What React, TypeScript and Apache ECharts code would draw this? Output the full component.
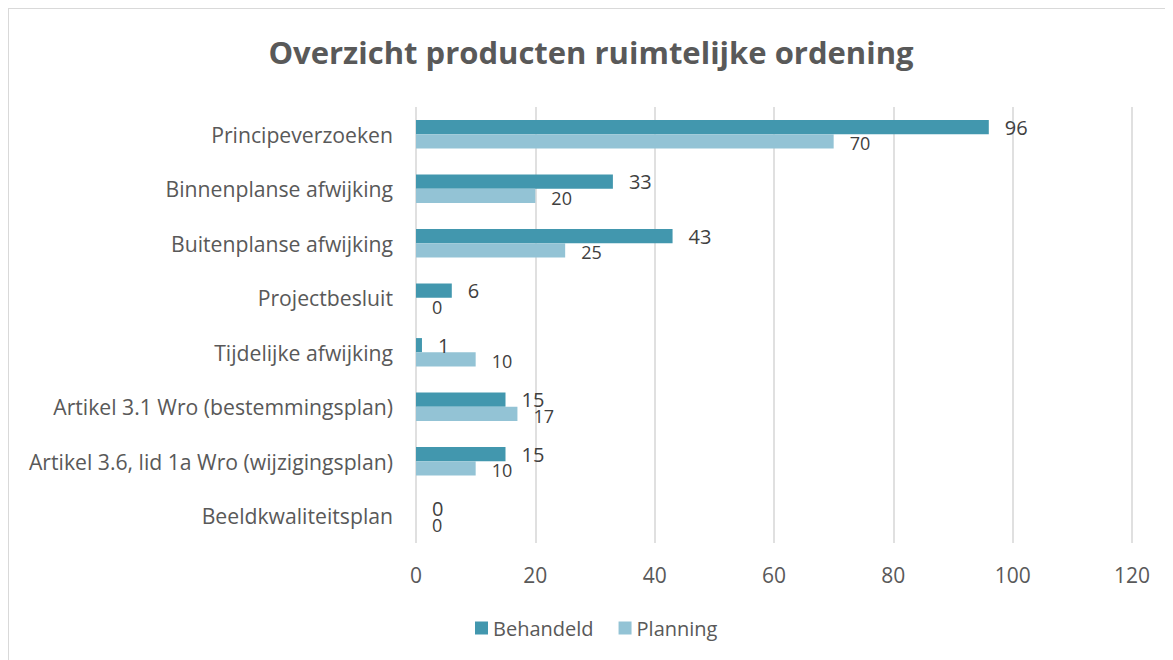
import React, { useEffect, useRef } from "react";
import * as echarts from "echarts";

const categories = [
  "Principeverzoeken",
  "Binnenplanse afwijking",
  "Buitenplanse afwijking",
  "Projectbesluit",
  "Tijdelijke afwijking",
  "Artikel 3.1 Wro (bestemmingsplan)",
  "Artikel 3.6, lid 1a Wro (wijzigingsplan)",
  "Beeldkwaliteitsplan",
];
const behandeld = [96, 33, 43, 6, 1, 15, 15, 0];
const planning = [70, 20, 25, 0, 10, 17, 10, 0];
const title = "Overzicht producten ruimtelijke ordening";

const FONT = "'Open Sans', sans-serif";

export default function App() {
  const ref = useRef<HTMLDivElement>(null);
  useEffect(() => {
    if (!ref.current) return;
    const chart = echarts.init(ref.current, undefined, { renderer: "svg" });
    chart.setOption({
      animation: false,
      textStyle: { fontFamily: FONT },
      title: {
        text: title,
        left: "center",
        top: 22,
        textStyle: { fontSize: 31, fontWeight: "bold", color: "#595959", fontFamily: FONT },
      },
      legend: {
        top: 604,
        left: 461,
        itemWidth: 13,
        itemHeight: 13,
        itemGap: 25,
        icon: "rect",
        textStyle: { fontSize: 20, color: "#595959", fontFamily: FONT },
        data: ["Behandeld", "Planning"],
      },
      grid: { left: 407, right: 41, top: 98, height: 436, containLabel: false },
      xAxis: {
        type: "value",
        min: 0,
        max: 120,
        interval: 20,
        axisLine: { show: false },
        axisTick: { show: false },
        axisLabel: { fontSize: 21, color: "#595959", margin: 21, fontFamily: FONT },
        splitLine: { show: true, lineStyle: { color: "#d9d9d9", width: 1.6 } },
      },
      yAxis: {
        type: "category",
        inverse: true,
        data: categories,
        axisLine: { show: false },
        axisTick: { show: false },
        axisLabel: { fontSize: 21.2, color: "#595959", margin: 23, fontFamily: FONT },
      },
      series: [
        {
          name: "Behandeld",
          type: "bar",
          data: behandeld,
          barGap: "0%",
          barCategoryGap: "48%",
          itemStyle: { color: "#4297ae" },
          label: {
            show: true,
            position: "right",
            distance: 16,
            offset: [0, 0],
            fontSize: 20,
            color: "#404040",
            fontFamily: FONT,
          },
        },
        {
          name: "Planning",
          type: "bar",
          data: planning,
          barGap: "0%",
          barCategoryGap: "48%",
          itemStyle: { color: "#93c3d5" },
          label: {
            show: true,
            position: "right",
            distance: 16,
            offset: [0, 2],
            fontSize: 18,
            color: "#404040",
            fontFamily: FONT,
          },
        },
      ],
    });
    return () => chart.dispose();
  }, []);
  return (
    <div
      style={{
        width: 1165,
        height: 652,
        boxSizing: "border-box",
        borderLeft: "1px solid #d9d9d9",
        borderTop: "1px solid #d9d9d9",
      }}
    >
      <div ref={ref} style={{ width: 1164, height: 651 }} />
    </div>
  );
}
